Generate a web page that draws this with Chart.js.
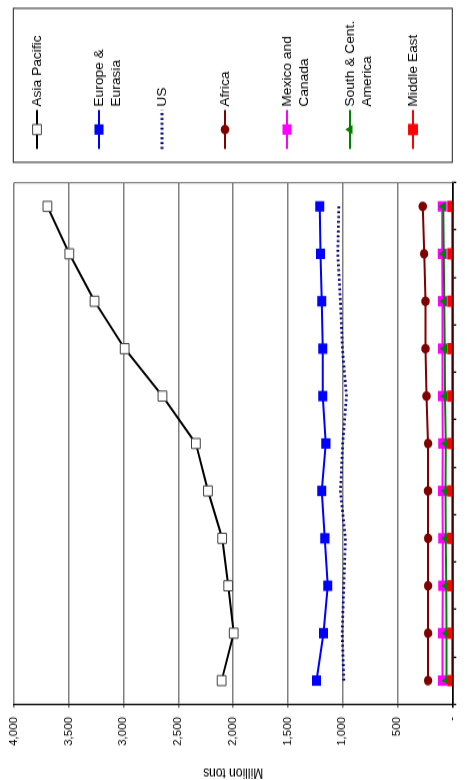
<!DOCTYPE html>
<html>
<head>
<meta charset="utf-8">
<script src="https://cdn.jsdelivr.net/npm/chart.js@4/dist/chart.umd.min.js"></script>
<style>
  html, body { margin: 0; padding: 0; background: #fff; overflow: hidden; width: 467px; height: 780px; }
  #wrap {
    position: absolute; left: 0; top: 0; width: 678px; height: 467px;
    transform-origin: 0 0;
    transform: translateY(780px) rotate(-90deg) scale(1.15, 1);
  }
</style>
</head>
<body>
<div id="wrap"><canvas id="c" width="678" height="467"></canvas></div>
<script>
// ---- data ----
const years = ['1997','1998','1999','2000','2001','2002','2003','2004','2005','2006','2007'];
const asiaPacific      = [2105, 1995, 2045, 2100, 2230, 2340, 2645, 2990, 3265, 3495, 3695];
const europeEurasia    = [1239, 1175, 1136, 1163, 1191, 1154, 1182, 1182, 1191, 1203, 1209];
const usValues         = [990, 1005, 990, 975, 1021, 1000, 966, 1003, 1021, 1045, 1036];
const africa           = [221, 221, 221, 221, 222, 221, 236, 245, 245, 257, 269];
const mexicoCanada     = [90, 89, 88, 88, 90, 88, 89, 90, 90, 91, 92];
const southCentAmerica = [52, 54, 56, 60, 62, 60, 66, 70, 74, 78, 82];
const middleEast       = [1, 1, 1, 1, 1, 1, 1, 1, 1, 1, 1];
const valueTickLabels  = ['-', '500', '1,000', '1,500', '2,000', '2,500', '3,000', '3,500', '4,000'];
const legendLines = [['Asia Pacific'], ['Europe &', 'Eurasia'], ['US'], ['Africa'],
                     ['Mexico and', 'Canada'], ['South & Cent.', 'America'], ['Middle East']];

const FONT = "'Liberation Sans', Arial, sans-serif";

const datasets = [
  { label: 'Asia Pacific', data: asiaPacific, borderColor: '#000000', backgroundColor: '#ffffff',
    pointStyle: 'rect', pointRadius: 6.2, pointBorderColor: '#404040', pointBorderWidth: 1, order: 6 },
  { label: 'Europe & Eurasia', data: europeEurasia, borderColor: '#0000ff', backgroundColor: '#0000ff',
    pointStyle: 'rect', pointRadius: 6.4, pointBorderColor: '#0000ff', pointBorderWidth: 0, order: 5 },
  { label: 'US', data: usValues, borderColor: '#000080', backgroundColor: '#000080',
    pointRadius: 0, borderDash: [1.8, 2.4], borderWidth: 2.8, order: 4 },
  { label: 'Africa', data: africa, borderColor: '#800000', backgroundColor: '#800000',
    pointStyle: 'circle', pointRadius: 4.2, pointBorderColor: '#800000', pointBorderWidth: 0, order: 3 },
  { label: 'Mexico and Canada', data: mexicoCanada, borderColor: '#ff00ff', backgroundColor: '#ff00ff',
    pointStyle: 'rect', pointRadius: 6.4, pointBorderColor: '#ff00ff', pointBorderWidth: 0, order: 2 },
  { label: 'South & Cent. America', data: southCentAmerica, borderColor: '#008000', backgroundColor: '#008000',
    pointStyle: 'triangle', pointRadius: 4.8, pointBorderColor: '#008000', pointBorderWidth: 0, order: 1 },
  { label: 'Middle East', data: middleEast, borderColor: '#ff0000', backgroundColor: '#ff0000',
    pointStyle: 'rect', pointRadius: 7, pointBorderColor: '#ff0000', pointBorderWidth: 0, order: 0 }
];
datasets.forEach(d => {
  if (d.borderWidth === undefined) d.borderWidth = 2;
  d.pointBackgroundColor = d.backgroundColor;
  d.fill = false;
  d.tension = 0;
});

function drawMarker(ctx, style, x, y, r, fill, stroke, bw) {
  if (!r) return;
  ctx.save();
  ctx.setLineDash([]);
  ctx.beginPath();
  if (style === 'rect') {
    const s = Math.SQRT1_2 * r;
    ctx.rect(x - s, y - s, 2 * s, 2 * s);
  } else if (style === 'circle') {
    ctx.arc(x, y, r, 0, Math.PI * 2);
  } else if (style === 'triangle') {
    let a = 0;
    ctx.moveTo(x + Math.sin(a) * r, y - Math.cos(a) * r);
    a += 2 * Math.PI / 3;
    ctx.lineTo(x + Math.sin(a) * r, y - Math.cos(a) * r);
    a += 2 * Math.PI / 3;
    ctx.lineTo(x + Math.sin(a) * r, y - Math.cos(a) * r);
    ctx.closePath();
  }
  ctx.fillStyle = fill;
  ctx.fill();
  if (bw) { ctx.lineWidth = bw; ctx.strokeStyle = stroke; ctx.stroke(); }
  ctx.restore();
}

const framePlugin = {
  id: 'frame',
  beforeDatasetsDraw(chart) {
    const { ctx, chartArea: a } = chart;
    ctx.save();
    ctx.strokeStyle = '#808080';
    ctx.lineWidth = 1.2;
    ctx.beginPath();
    ctx.moveTo(a.right, a.top);
    ctx.lineTo(a.right, a.bottom);
    ctx.stroke();
    ctx.restore();
  },
  afterDraw(chart) {
    const ctx = chart.ctx;
    ctx.save();
    // legend box
    ctx.strokeStyle = '#202020';
    ctx.lineWidth = 1;
    ctx.strokeRect(537.1, 13.3, 133.9, 439);
    const ys = [37, 99, 162, 225, 287, 350, 413];
    ctx.font = '12px ' + FONT;
    ctx.fillStyle = '#000';
    ctx.textBaseline = 'middle';
    ctx.textAlign = 'left';
    chart.data.datasets.forEach((d, i) => {
      const y = ys[i];
      ctx.save();
      ctx.strokeStyle = d.borderColor;
      ctx.lineWidth = d.borderWidth;
      ctx.setLineDash(d.borderDash || []);
      ctx.beginPath();
      ctx.moveTo(548.7, y);
      ctx.lineTo(582.6, y);
      ctx.stroke();
      ctx.restore();
      drawMarker(ctx, d.pointStyle, 565.6, y, d.pointRadius, d.pointBackgroundColor, d.pointBorderColor, d.pointBorderWidth);
      legendLines[i].forEach((t, k) => ctx.fillText(t, 585.5, y + 1 + k * 16.7));
    });
    ctx.restore();
  }
};

new Chart(document.getElementById('c'), {
  type: 'line',
  data: { labels: years, datasets },
  options: {
    responsive: false,
    animation: false,
    devicePixelRatio: 1,
    layout: { padding: { top: 12.7, right: 158.6, bottom: 0, left: 0 } },
    plugins: { legend: { display: false }, tooltip: { enabled: false } },
    scales: {
      x: {
        type: 'category',
        offset: true,
        grid: { offset: true, drawOnChartArea: false, drawTicks: true, tickLength: 4, color: '#000', lineWidth: 1.3 },
        border: { display: true, color: '#000', width: 1.5 },
        ticks: { font: { family: FONT, size: 10 }, color: '#606060', padding: 10, autoSkip: false, maxRotation: 0 },
        afterFit(s) { s.height = 14.7; }
      },
      y: {
        min: 0, max: 4000,
        ticks: {
          stepSize: 500,
          font: { family: FONT, size: 10 }, color: '#000', padding: 8,
          callback: (v) => valueTickLabels[Math.round(v / 500)]
        },
        grid: { color: (c) => c.tick && c.tick.value === 0 ? '#000' : '#808080', lineWidth: 1.6, tickLength: 3, drawTicks: true },
        border: { display: true, color: '#000', width: 1.3 },
        title: { display: true, text: 'Million tons', font: { family: FONT, size: 12, lineHeight: 1.05 }, color: '#000', padding: 0 },
        afterFit(s) { s.width = 65.8; }
      }
    }
  },
  plugins: [framePlugin]
});
</script>
</body>
</html>
